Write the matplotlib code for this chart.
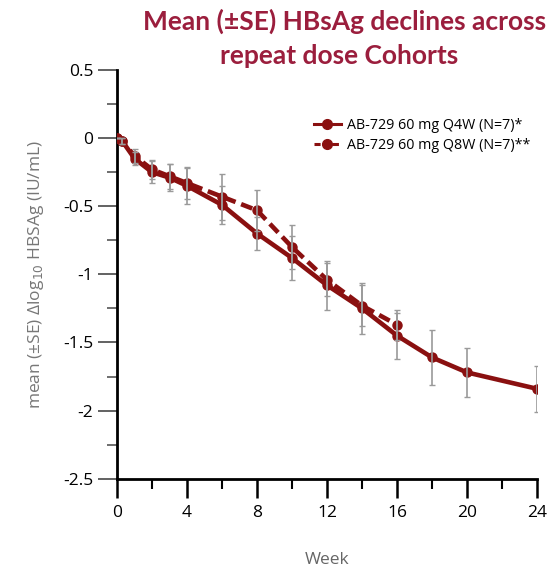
import matplotlib.pyplot as plt
from matplotlib.ticker import MultipleLocator
from matplotlib.lines import Line2D

# data
weeks_q4w = [0, 0.29, 1, 2, 3, 4, 6, 8, 10, 12, 14, 16, 18, 20, 24]
mean_q4w = [0, -0.02, -0.15, -0.25, -0.29, -0.35, -0.49, -0.70, -0.88, -1.08, -1.25, -1.45, -1.61, -1.72, -1.84]
se_q4w = [0, 0.02, 0.05, 0.08, 0.10, 0.13, 0.14, 0.12, 0.16, 0.18, 0.19, 0.17, 0.20, 0.18, 0.17]

weeks_q8w = [0, 0.29, 1, 2, 3, 4, 6, 8, 10, 12, 14, 16]
mean_q8w = [0, -0.02, -0.13, -0.23, -0.28, -0.33, -0.43, -0.53, -0.80, -1.04, -1.23, -1.37]
se_q8w = [0, 0.02, 0.05, 0.07, 0.09, 0.12, 0.17, 0.15, 0.16, 0.12, 0.15, 0.11]

labels = ['AB-729 60 mg Q4W (N=7)*', 'AB-729 60 mg Q8W (N=7)**']

red = '#8a1010'
grey = '#9a9a9a'
plt.rcParams['font.family'] = ['Open Sans', 'DejaVu Sans']

fig = plt.figure(figsize=(5.52, 5.74), dpi=100)
ax = fig.add_axes([0.212, 0.166, 0.761, 0.712])

ax.plot(weeks_q4w, mean_q4w, '-', color=red, lw=3.3, marker='o', ms=6.5, zorder=3)
ax.plot(weeks_q8w, mean_q8w, '--', color=red, lw=3.3, marker='o', ms=6.5, dashes=(2.6, 1.3), zorder=3)
ax.errorbar(weeks_q4w, mean_q4w, yerr=se_q4w, fmt='none', ecolor=grey, elinewidth=1.2, capsize=2.5, capthick=1.0, zorder=4)
ax.errorbar(weeks_q8w, mean_q8w, yerr=se_q8w, fmt='none', ecolor=grey, elinewidth=1.2, capsize=2.5, capthick=1.0, zorder=4)

ax.set_xlim(0, 24)
ax.set_ylim(-2.5, 0.5)
ax.xaxis.set_major_locator(MultipleLocator(4))
ax.xaxis.set_minor_locator(MultipleLocator(2))
ax.yaxis.set_major_locator(MultipleLocator(0.5))
ax.yaxis.set_minor_locator(MultipleLocator(0.25))
ax.set_yticks([0.5, 0, -0.5, -1, -1.5, -2, -2.5])
ax.set_yticklabels(['0.5', '0', '-0.5', '-1', '-1.5', '-2', '-2.5'])

for s in ['top', 'right']:
    ax.spines[s].set_visible(False)
for s in ['left', 'bottom']:
    ax.spines[s].set_linewidth(2)
    ax.spines[s].set_color('black')
ax.tick_params(axis='x', which='major', length=14, width=1.8, labelsize=12.5, pad=5)
ax.tick_params(axis='x', which='minor', length=7, width=1.5)
ax.tick_params(axis='y', which='major', length=14, width=1.3, color='#555555', labelsize=12.5, pad=3)
ax.tick_params(axis='y', which='minor', length=7, width=1.2, color='#555555')

ax.set_xlabel('Week', color='#666666', fontsize=12.5, labelpad=22)
ax.set_ylabel('mean (±SE) Δlog$_{10}$ HBSAg (IU/mL)', color='#777777', fontsize=12.5, labelpad=12)

handles = [Line2D([], [], color=red, lw=2.2, marker='o', ms=7, ls='-'),
           Line2D([], [], color=red, lw=2.2, marker='o', ms=7, ls=(0, (2, 1)))]
ax.legend(handles, labels, loc='upper right', bbox_to_anchor=(1.015, 0.915), frameon=False,
          fontsize=10.3, handlelength=1.9, handletextpad=0.45, labelspacing=0.35)

fig.text(0.625, 0.962, 'Mean (±SE) HBsAg declines across', ha='center', va='center',
         color='#9b1e3d', fontsize=19, fontweight='bold', family=['Lato', 'DejaVu Sans'])
fig.text(0.615, 0.903, 'repeat dose Cohorts', ha='center', va='center',
         color='#9b1e3d', fontsize=19, fontweight='bold', family=['Lato', 'DejaVu Sans'])

fig.savefig('out.png', dpi=100)
